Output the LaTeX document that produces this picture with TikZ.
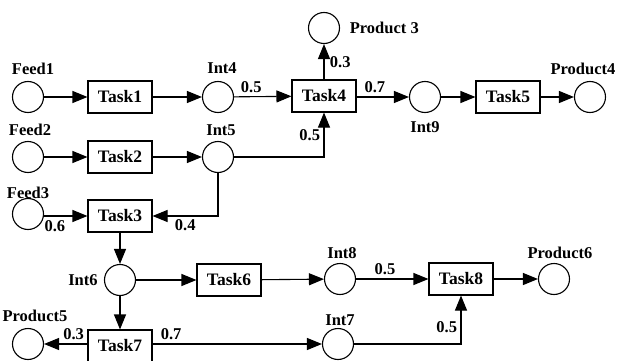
\documentclass[tikz,border=0pt]{standalone}
\usepackage{fontspec}
\setmainfont{Liberation Serif}
\usetikzlibrary{arrows.meta,positioning}

\begin{document}
\begin{tikzpicture}[x=1pt,y=-1pt,line width=1.1pt,font=\fontsize{16.5}{19}\selectfont\bfseries]
    \tikzset{
        store/.style={draw, circle, minimum size=31pt, inner sep=0pt},
        task/.style={draw, rectangle, minimum width=64pt, minimum height=32pt, inner sep=0pt,
            font=\fontsize{17.5}{20}\selectfont\bfseries},
        arc/.style={-{Triangle[length=15pt,width=12pt]}}
    }
    \useasboundingbox (0,0) rectangle (621,361);

    % first row
    \draw node[store] (f1) at (28,97) {};
    \draw node[task] (t1) at (120,97) {Task1};
    \draw node[store] (i4) at (218,97) {};
    \draw node[task] (t4) at (324,96) {Task4};
    \draw node[store] (p3) at (324,28) {};
    \draw node[store] (i9) at (425,97) {};
    \draw node[task] (t5) at (508,97) {Task5};
    \draw node[store] (p4) at (590,97) {};

    % second row
    \draw node[store] (f2) at (28,157) {};
    \draw node[task] (t2) at (120,157) {Task2};
    \draw node[store] (i5) at (218,157) {};

    % third row
    \draw node[store] (f3) at (28,214) {};
    \draw node[task] (t3) at (120,216) {Task3};

    % lower part
    \draw node[store] (i6) at (120,280) {};
    \draw node[task] (t6) at (229,280) {Task6};
    \draw node[store] (i8) at (340,279) {};
    \draw node[task] (t8) at (461,279) {Task8};
    \draw node[store] (p6) at (554,279) {};
    \draw node[store] (p5) at (28,344) {};
    \draw node[task] (t7) at (120,346) {Task7};
    \draw node[store] (i7) at (338,344) {};

    % state names
    \node (lf1) at (33,69) {Feed1};
    \node (li4) at (222,68) {Int4};
    \node[anchor=west] (lp3) at (346,28) {Product 3};
    \node (li9) at (425,127) {Int9};
    \node (lp4) at (583,69) {Product4};
    \node (lf2) at (30,130) {Feed2};
    \node (li5) at (221,130) {Int5};
    \node (lf3) at (28,193) {Feed3};
    \node (li6) at (83,280) {Int6};
    \node (li8) at (342,253) {Int8};
    \node (lp6) at (560,253) {Product6};
    \node[anchor=west,inner sep=0pt] (lp5) at (2,316) {Product5};
    \node (li7) at (340,320) {Int7};

    \draw[arc] (f1) -- (t1);
    \draw[arc] (t1) -- (i4);
    \draw[arc] (i4) -- node[above,pos=0.3] (w1) {0.5} (t4);
    \draw[arc] (t4) -- node[right=2pt] (w2) {0.3} (p3);
    \draw[arc] (t4.east |- i9) -- node[above,pos=0.35] (w3) {0.7} (i9);
    \draw[arc] (i9) -- (t5);
    \draw[arc] (t5) -- (p4);

    \draw[arc] (f2) -- (t2);
    \draw[arc] (t2) -- (i5);
    \draw[arc] (i5) -| node[pos=0.75,left] (w4) {0.5} (t4);

    \draw[arc] (f3.east |- t3) -- node[below=1pt,pos=0.25] (w5) {0.6} (t3);
    \draw[arc] (i5) |- node[pos=0.75,below] (w6) {0.4} (t3);
    \draw[arc] (t3) -- (i6);

    \draw[arc] (i6) -- (t6);
    \draw[arc] (t6) -- (i8);
    \draw[arc] (i8) -- node[above,pos=0.4] (w7) {0.5} (t8);
    \draw[arc] (t8) -- (p6);
    \draw[arc] (i6) -- (t7);
    \draw[arc] (t7.west |- p5) -- node[above,pos=0.32] (w8) {0.3} (p5);
    \draw[arc] (t7.east |- i7) -- node[above,pos=0.11] (w9) {0.7} (i7);
    \draw[arc] (i7) -| node[pos=0.67,left] (w10) {0.5} (t8);
\end{tikzpicture}
\end{document}
